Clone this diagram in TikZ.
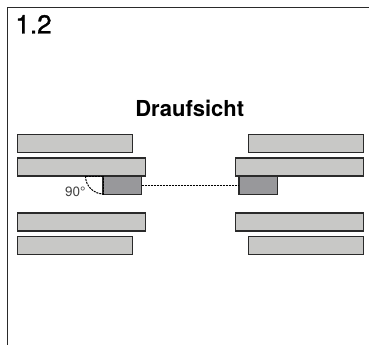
\documentclass[tikz,border=0pt]{standalone}
\usepackage{fontspec}
\setmainfont{TeX Gyre Heros}
\newfontfamily\medfont[FakeBold=1.2]{TeX Gyre Heros}
\definecolor{barfill}{HTML}{C8C8C6}
\definecolor{carfill}{HTML}{98989B}
\definecolor{inkline}{HTML}{2A2A2A}
\tikzset{
  bar/.style={draw=inkline,fill=barfill,line width=1.2pt,minimum height=18pt,inner sep=0pt,outer sep=0pt},
  car/.style={draw=inkline,fill=carfill,line width=1.2pt,minimum height=18.5pt,minimum width=38.5pt,inner sep=0pt,outer sep=0pt},
  guide/.style={draw=black,line width=1pt,dash pattern=on 2pt off 1pt},
  lab/.style={inner sep=0pt,outer sep=0pt,anchor=base west}
}
\begin{document}
\begin{tikzpicture}[x=1pt,y=-1pt]
\useasboundingbox (0,0) rectangle (369,345);
\draw[inkline,line width=1.2pt] (369,7.5) -- (7.3,7.5) -- (7.3,345);
\node[lab,font=\medfont\fontsize{26}{28}\selectfont] (num) at (15.5,33.5) {1.2};
\node[lab,font=\bfseries\fontsize{22}{24}\selectfont] (title) at (135.3,116.5) {Draufsicht};
\node[bar,minimum width=115pt,anchor=north west] (l1) at (17.5,134.5) {};
\node[bar,minimum width=128pt,anchor=north west] (l2) at (17.5,158) {};
\node[bar,minimum width=128pt,anchor=north west] (l3) at (17.5,213) {};
\node[bar,minimum width=115pt,anchor=north west] (l4) at (17.5,236.5) {};
\node[bar,minimum width=115pt,anchor=north west] (r1) at (248.3,134.5) {};
\node[bar,minimum width=128pt,anchor=north west] (r2) at (235.5,158) {};
\node[bar,minimum width=128pt,anchor=north west] (r3) at (235.5,213) {};
\node[bar,minimum width=115pt,anchor=north west] (r4) at (248.3,236.5) {};
\node[car,anchor=north west] (cl) at (103,176) {};
\node[car,anchor=north west] (cr) at (239,176) {};
\draw[guide] (cl.east) -- (cr.west);
\draw[guide] (cl.south west) -- (cl.north west);
\draw[guide] (85.5,176) -- (cl.north west);
\draw[guide] (85.5,176) arc[start angle=180,end angle=90,radius=18];
\node[lab,font=\fontsize{13.5}{15}\selectfont,text=black!75] (deg) at (65,196.5) {90°};
\end{tikzpicture}
\end{document}
